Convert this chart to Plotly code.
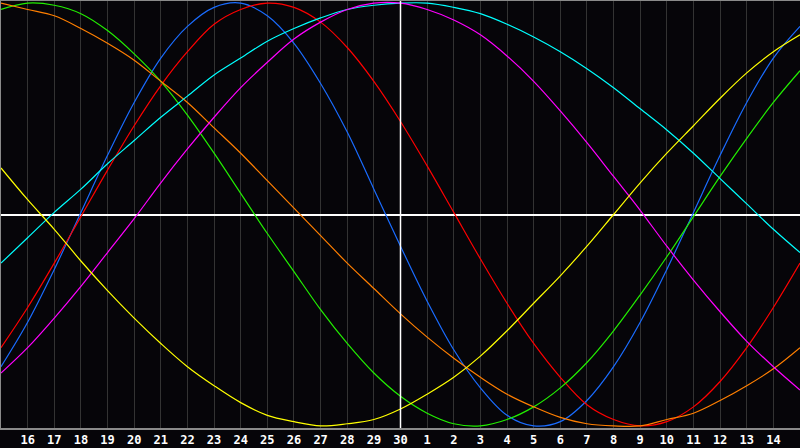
import plotly.graph_objects as go

# days shown: 15th of one month to 15th of the next (30-day month)
days = [15, 16, 17, 18, 19, 20, 21, 22, 23, 24, 25, 26, 27, 28, 29, 30,
        1, 2, 3, 4, 5, 6, 7, 8, 9, 10, 11, 12, 13, 14, 15]

# cycle values, -1 .. 1, one per day
physical = [-0.72, -0.51, -0.26, 0.01, 0.28, 0.53, 0.74, 0.89, 0.98, 1.00, 0.94,
            0.81, 0.62, 0.39, 0.12, -0.15, -0.41, -0.64, -0.82, -0.95, -1.00,
            -0.98, -0.88, -0.72, -0.51, -0.26, 0.01, 0.28, 0.53, 0.74, 0.89]
emotional = [-0.63, -0.44, -0.23, -0.01, 0.21, 0.42, 0.61, 0.77, 0.90, 0.97, 1.00,
             0.98, 0.91, 0.79, 0.63, 0.44, 0.23, 0.01, -0.21, -0.42, -0.61,
             -0.77, -0.90, -0.97, -1.00, -0.98, -0.91, -0.79, -0.63, -0.44, -0.23]
intellectual = [0.97, 1.00, 0.99, 0.95, 0.87, 0.76, 0.63, 0.47, 0.29, 0.10, -0.09,
                -0.27, -0.45, -0.61, -0.75, -0.86, -0.94, -0.99, -1.00, -0.97, -0.91,
                -0.82, -0.70, -0.55, -0.38, -0.20, -0.01, 0.18, 0.36, 0.53, 0.68]
awareness = [1.00, 0.97, 0.94, 0.88, 0.81, 0.73, 0.63, 0.53, 0.41, 0.29, 0.16,
             0.03, -0.10, -0.23, -0.35, -0.47, -0.58, -0.68, -0.77, -0.85, -0.91,
             -0.96, -0.99, -1.00, -1.00, -0.97, -0.94, -0.88, -0.81, -0.73, -0.63]
spiritual = [-0.23, -0.11, 0.01, 0.12, 0.24, 0.35, 0.46, 0.56, 0.66, 0.74, 0.82,
             0.88, 0.93, 0.97, 0.99, 1.00, 1.00, 0.98, 0.95, 0.90, 0.84,
             0.77, 0.69, 0.60, 0.50, 0.40, 0.29, 0.17, 0.05, -0.07, -0.18]
intuition = [-0.75, -0.63, -0.49, -0.34, -0.18, -0.02, 0.15, 0.31, 0.46, 0.60, 0.72,
             0.83, 0.91, 0.97, 1.00, 1.00, 0.97, 0.92, 0.85, 0.75, 0.63,
             0.49, 0.34, 0.18, 0.02, -0.15, -0.31, -0.46, -0.60, -0.72, -0.83]
aesthetic = [0.22, 0.07, -0.07, -0.22, -0.36, -0.49, -0.61, -0.72, -0.81, -0.89, -0.95,
             -0.98, -1.00, -0.99, -0.97, -0.92, -0.85, -0.77, -0.67, -0.55, -0.42,
             -0.29, -0.15, 0.00, 0.15, 0.29, 0.42, 0.55, 0.67, 0.77, 0.85]

series = [
    ("Physical", physical, "#1a6cff"),
    ("Emotional", emotional, "#ff0000"),
    ("Intellectual", intellectual, "#22ee00"),
    ("Awareness", awareness, "#ff7f00"),
    ("Spiritual", spiritual, "#00ffff"),
    ("Intuition", intuition, "#ff00ff"),
    ("Aesthetic", aesthetic, "#ffff00"),
]

x = list(range(len(days)))

fig = go.Figure()
for name, vals, col in series:
    fig.add_trace(go.Scatter(x=x, y=vals, mode="lines", name=name,
                             line=dict(color=col, width=1.2, shape="spline"),
                             showlegend=False, hoverinfo="skip"))

# white centre cross: today + zero line
fig.add_shape(type="line", x0=15, x1=15, y0=0, y1=1, yref="paper",
              line=dict(color="#ffffff", width=1.5), layer="above")

fig.update_layout(
    width=800, height=448,
    margin=dict(l=1, r=0, t=1, b=20),
    plot_bgcolor="#060509",
    paper_bgcolor="#060509",
    font=dict(family="DejaVu Sans Mono", color="#ffffff", size=12),
)
fig.update_xaxes(
    range=[0, 30],
    tickvals=x[1:-1],
    ticktext=[str(d) for d in days[1:-1]],
    tickfont=dict(family="DejaVu Sans Mono", size=12, color="#ffffff", weight="bold"),
    showgrid=True, gridcolor="#333333", gridwidth=1,
    showline=True, linecolor="#8a8a8a", linewidth=1.5, mirror=True,
    zeroline=False, ticks="", fixedrange=True,
)
fig.update_yaxes(
    range=[-1.01, 1.01],
    showticklabels=False, showgrid=False,
    zeroline=True, zerolinecolor="#ffffff", zerolinewidth=1.5,
    showline=True, linecolor="#8a8a8a", linewidth=1.5,
    ticks="", fixedrange=True,
)

# page body has a default 8px margin, drop it so the chart fills the window
fig.write_html("out.html", config={"displayModeBar": False},
               post_script="document.body.style.margin='0';document.body.style.background='#060509';")
